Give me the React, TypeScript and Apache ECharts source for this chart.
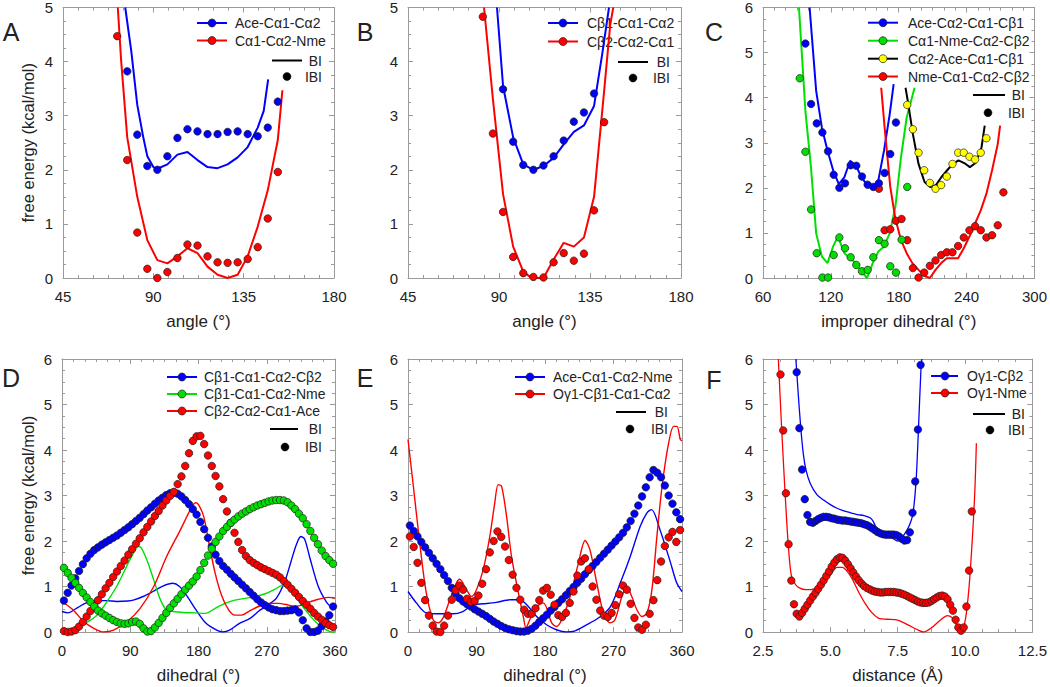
import React, { useEffect, useRef } from "react";
import * as echarts from "echarts";

const FONT = '"Liberation Sans", Arial, Helvetica, sans-serif';
const FRAME = "#9a9a9a";
const TEXT = "#222222";
const BLUE = "#0000ff";
const RED = "#ff0000";
const GREEN = "#00e000";
const YELLOW = "#ffff00";
const BLACK = "#000000";

// bin centres of the histogrammed IBI points
const bins = (start: number, step: number, n: number) =>
  Array.from({ length: n }, (_, i) => Math.round((start + step * i) * 1000) / 1000);

// ---------------- Panel A ----------------
const aBlueIbiX = bins(77, 5, 16);
const aBlueIbiY = [3.82, 2.65, 2.07, 2.0, 2.25, 2.59, 2.75, 2.71, 2.66, 2.66, 2.7, 2.71, 2.66, 2.62, 2.78, 3.26];
const aRedIbiX = bins(72, 5, 17);
const aRedIbiY = [4.47, 2.18, 0.84, 0.17, 0.0, 0.11, 0.37, 0.62, 0.6, 0.4, 0.29, 0.28, 0.29, 0.35, 0.57, 1.1, 1.96];
const aBlueBiX = [76, 79, 82, 85, 87, 90, 92, 97, 102, 107, 112, 117, 122, 127, 132, 137, 142, 145, 147.2];
const aBlueBiY = [5.0, 4.2, 3.2, 2.6, 2.25, 2.05, 2.02, 2.1, 2.28, 2.33, 2.18, 2.05, 2.03, 2.1, 2.23, 2.42, 2.78, 3.09, 3.67];
const aRedBiX = [72.3, 74, 77, 82, 87, 92, 97, 102, 107, 112, 117, 122, 127, 132, 137, 142, 147, 152, 154.3];
const aRedBiY = [5.0, 4.0, 2.6, 1.5, 0.7, 0.33, 0.27, 0.4, 0.55, 0.46, 0.21, 0.06, 0.0, 0.06, 0.4, 0.95, 1.62, 2.55, 3.47];

// ---------------- Panel B ----------------
const bBlueIbiX = bins(92, 5, 10);
const bBlueIbiY = [3.49, 2.52, 2.09, 2.0, 2.08, 2.25, 2.54, 2.89, 3.06, 3.41];
const bRedIbiX = bins(82, 5, 13);
const bRedIbiY = [4.83, 2.67, 1.22, 0.39, 0.09, 0.02, 0.01, 0.29, 0.46, 0.32, 0.45, 1.25, 2.88];
const bBlueBiX = [89, 92, 97, 102, 107, 112, 117, 122, 127, 132, 137, 141, 144.4];
const bBlueBiY = [5.0, 3.55, 2.6, 2.1, 2.0, 2.07, 2.22, 2.47, 2.7, 2.82, 3.18, 4.13, 5.0];
const bRedBiX = [82.6, 87, 92, 97, 102, 105, 107, 112, 117, 122, 127, 132, 137, 142, 145, 146.5];
const bRedBiY = [5.0, 3.3, 1.55, 0.58, 0.12, 0.03, 0.0, 0.0, 0.34, 0.65, 0.58, 0.75, 1.5, 3.46, 4.68, 5.0];

// ---------------- Panel C ----------------
const cBlueIbiX = bins(97.5, 5, 17);
const cBlueIbiY = [5.2, 3.86, 3.43, 3.23, 2.81, 2.29, 2.0, 2.1, 2.5, 2.49, 2.25, 2.07, 2.02, 2.1, 2.33, 2.75, 3.45];
const cGreenIbiX = bins(92.5, 5, 20);
const cGreenIbiY = [4.43, 2.8, 1.52, 0.55, 0.01, 0.01, 0.51, 0.9, 0.66, 0.46, 0.29, 0.15, 0.18, 0.46, 0.84, 0.76, 0.26, 0.12, 0.85, 2.02];
const cYellowIbiX = bins(187.5, 5, 15);
const cYellowIbiY = [3.84, 3.3, 2.78, 2.39, 2.11, 1.98, 2.06, 2.25, 2.53, 2.78, 2.78, 2.69, 2.63, 2.78, 3.1];
const cRedIbiX = bins(162.5, 5, 23);
const cRedIbiY = [1.98, 1.06, 1.08, 1.27, 1.31, 0.84, 0.22, 0.01, 0.12, 0.27, 0.39, 0.51, 0.57, 0.57, 0.71, 0.9, 1.06, 1.15, 1.06, 0.9, 0.95, 1.17, 1.9];
const cBlueBiX = [101.2, 107, 112, 117, 122, 127, 132, 137, 142, 147, 152, 157, 162, 167, 172, 175.5];
const cBlueBiY = [6.0, 4.15, 3.34, 2.83, 2.39, 2.08, 2.24, 2.6, 2.5, 2.24, 2.06, 2.02, 2.17, 2.83, 3.63, 4.3];
const cGreenBiX = [91.8, 97.5, 102.4, 107, 112, 117, 122, 126.2, 132, 137, 142, 147, 152, 157, 162, 167, 172, 177, 182, 187, 194];
const cGreenBiY = [6.0, 3.7, 2.46, 0.99, 0.48, 0.33, 0.7, 0.92, 0.55, 0.44, 0.33, 0.15, 0.0, 0.33, 0.59, 0.7, 0.99, 1.58, 2.68, 3.56, 4.22];
const cBlackBiX = [186, 188, 192.5, 197.5, 202.8, 207.8, 212.8, 217.8, 222.8, 227.8, 232.8, 237.9, 242.9, 247.9, 253.2, 256];
const cBlackBiY = [4.22, 3.93, 3.19, 2.53, 2.13, 2.02, 2.06, 2.24, 2.39, 2.53, 2.61, 2.55, 2.46, 2.55, 2.9, 3.38];
const cRedBiX = [164.5, 167.5, 172.5, 177, 182, 187, 192, 197.5, 202.5, 207.5, 212.5, 217.5, 222.5, 227.5, 232.5, 237.5, 242.5, 247.5, 252.5, 257.5, 262.5, 267.5, 269.6];
const cRedBiY = [4.22, 3.34, 2.02, 1.32, 0.84, 0.55, 0.33, 0.18, 0.05, 0.0, 0.18, 0.33, 0.44, 0.44, 0.44, 0.66, 0.92, 1.21, 1.5, 1.87, 2.39, 2.97, 3.38];

// ---------------- Panel D ----------------
const dIbiX = bins(2.5, 5, 72);
const dBlueIbiY = [
  0.69, 0.86, 1.02, 1.18, 1.34, 1.49, 1.62, 1.72, 1.8, 1.86,
  1.92, 1.97, 2.02, 2.07, 2.12, 2.18, 2.24, 2.3, 2.37, 2.44,
  2.51, 2.59, 2.67, 2.74, 2.82, 2.89, 2.95, 3.01, 3.05, 3.06,
  3.04, 2.98, 2.9, 2.81, 2.7, 2.58, 2.42, 2.26, 2.07, 1.88,
  1.7, 1.56, 1.45, 1.37, 1.28, 1.2, 1.12, 1.04, 0.96, 0.88,
  0.8, 0.72, 0.65, 0.59, 0.54, 0.5, 0.48, 0.46, 0.46, 0.47,
  0.48, 0.5, 0.43, 0.26, 0.08, 0.0, 0.0, 0.03, 0.13, 0.23,
  0.37, 0.56,
];
const dGreenIbiY = [
  1.41, 1.3, 1.19, 1.08, 0.97, 0.86, 0.76, 0.66, 0.56, 0.47,
  0.41, 0.36, 0.31, 0.26, 0.22, 0.19, 0.18, 0.19, 0.22, 0.23,
  0.18, 0.08, 0.01, 0.02, 0.1, 0.2, 0.31, 0.42, 0.53, 0.63,
  0.73, 0.83, 0.93, 1.02, 1.11, 1.22, 1.36, 1.52, 1.68, 1.83,
  1.98, 2.1, 2.22, 2.31, 2.4, 2.47, 2.54, 2.6, 2.65, 2.7,
  2.74, 2.78, 2.81, 2.84, 2.87, 2.89, 2.9, 2.9, 2.89, 2.85,
  2.78, 2.7, 2.6, 2.5, 2.37, 2.22, 2.07, 1.93, 1.79, 1.67,
  1.58, 1.5,
];
const dRedIbiY = [
  0.02, 0.0, 0.01, 0.04, 0.12, 0.22, 0.34, 0.46, 0.58, 0.7,
  0.83, 0.96, 1.08, 1.21, 1.33, 1.45, 1.57, 1.7, 1.82, 1.94,
  2.06, 2.19, 2.31, 2.43, 2.55, 2.66, 2.78, 2.89, 2.99, 3.08,
  3.25, 3.42, 3.65, 3.93, 4.2, 4.3, 4.31, 4.13, 3.88, 3.65,
  3.43, 3.2, 2.92, 2.65, 2.4, 2.18, 1.98, 1.8, 1.67, 1.58,
  1.52, 1.47, 1.42, 1.38, 1.34, 1.3, 1.26, 1.2, 1.12, 1.04,
  0.95, 0.86, 0.77, 0.68, 0.6, 0.51, 0.42, 0.34, 0.27, 0.2,
  0.15, 0.11,
];
const dBlueBiX = [0, 8, 19, 32, 46, 59, 72, 87, 94, 107, 120, 133, 146, 155, 164, 177, 190, 204, 212, 221, 234, 248, 261, 272, 283, 294, 302, 309, 315, 320, 327, 338, 349, 355, 360];
const dBlueBiY = [0.45, 0.42, 0.52, 0.64, 0.69, 0.69, 0.67, 0.68, 0.7, 0.78, 0.89, 1.01, 1.07, 1.0, 0.81, 0.48, 0.19, 0.04, 0.0, 0.04, 0.19, 0.3, 0.48, 0.6, 0.75, 1.12, 1.55, 1.92, 2.1, 2.04, 1.62, 1.0, 0.65, 0.55, 0.5];
const dGreenBiX = [33, 45, 55, 72, 86, 94, 100, 104, 112, 121, 130, 138, 147, 160, 176, 189, 202, 215, 228, 242, 255, 268, 281, 290, 296, 308, 321, 334, 345, 356, 360];
const dGreenBiY = [0.21, 0.35, 0.56, 1.0, 1.47, 1.73, 1.88, 1.86, 1.58, 1.14, 0.7, 0.48, 0.45, 0.43, 0.42, 0.41, 0.52, 0.63, 0.7, 0.74, 0.78, 0.84, 0.94, 1.02, 1.0, 0.78, 0.48, 0.23, 0.08, 0.0, 0.0];
const dRedBiX = [0, 15, 28.5, 42, 55, 68, 86, 103, 121, 138, 156, 169, 176, 180, 187, 193, 202, 211, 220, 228, 237, 246, 259, 272, 285, 299, 307, 316, 325, 338, 351, 360];
const dRedBiY = [0.67, 0.48, 0.23, 0.08, 0.0, 0.04, 0.23, 0.52, 1.0, 1.66, 2.24, 2.68, 2.84, 2.8, 2.53, 2.02, 1.29, 0.78, 0.48, 0.37, 0.37, 0.45, 0.56, 0.63, 0.63, 0.59, 0.56, 0.59, 0.65, 0.72, 0.76, 0.75];

// ---------------- Panel E ----------------
const eIbiX = bins(2.5, 5, 72);
const eBlueIbiY = [
  2.34, 2.22, 2.1, 1.98, 1.86, 1.74, 1.62, 1.5, 1.38, 1.25,
  1.12, 0.97, 0.85, 0.74, 0.67, 0.61, 0.56, 0.5, 0.45, 0.4,
  0.35, 0.29, 0.23, 0.18, 0.13, 0.09, 0.06, 0.04, 0.02, 0.01,
  0.01, 0.03, 0.07, 0.14, 0.22, 0.3, 0.38, 0.47, 0.55, 0.64,
  0.72, 0.81, 0.9, 0.99, 1.08, 1.17, 1.27, 1.36, 1.45, 1.54,
  1.63, 1.72, 1.81, 1.9, 1.99, 2.08, 2.18, 2.3, 2.44, 2.6,
  2.78, 2.98, 3.18, 3.4, 3.56, 3.5, 3.4, 3.22, 3.0, 2.82,
  2.63, 2.48,
];
const eRedIbiY = [
  2.1, 1.87, 1.52, 1.08, 0.7, 0.36, 0.14, 0.01, 0.0, 0.14,
  0.36, 0.71, 0.92, 1.02, 0.93, 0.73, 0.66, 0.68, 0.8, 1.06,
  1.38, 1.75, 2.0, 2.21, 2.09, 1.88, 1.58, 1.26, 0.97, 0.71,
  0.49, 0.4, 0.4, 0.52, 0.7, 0.91, 0.97, 0.82, 0.6, 0.37,
  0.33, 0.42, 0.64, 0.89, 1.24, 1.55, 1.62, 1.38, 1.0, 0.71,
  0.47, 0.36, 0.33, 0.42, 0.59, 0.83, 1.02, 0.93, 0.62, 0.31,
  0.1, 0.05, 0.16, 0.4, 0.7, 1.14, 1.55, 1.89, 2.08, 2.2,
  1.98, 2.24,
];
const eBlueBiX = [0, 11, 24, 42, 59, 72, 86, 99, 116, 134, 147, 156, 169, 182, 195, 208, 217, 235, 252, 266, 279, 292, 305, 314, 320, 331, 345, 353, 360];
const eBlueBiY = [0.89, 0.64, 0.42, 0.4, 0.4, 0.45, 0.6, 0.62, 0.65, 0.71, 0.71, 0.6, 0.34, 0.16, 0.05, 0.0, 0.01, 0.16, 0.33, 0.56, 1.08, 1.66, 2.32, 2.62, 2.69, 2.25, 1.52, 1.08, 0.89];
const eRedBiX = [0, 6.6, 15.4, 24, 33, 39.5, 46, 55, 63.7, 68, 76.8, 83.4, 90, 98.8, 107.5, 114, 118.5, 123, 129.5, 136, 145, 151.5, 155, 160, 166.8, 177.8, 188.8, 195, 202, 213, 224, 232.7, 239, 248, 256.8, 265.6, 272, 281, 287.5, 294, 300.7, 307.3, 314, 320.5, 327, 333.8, 342.4, 349, 353.4, 357.8, 360];
const eRedBiY = [4.23, 3.27, 1.96, 0.86, 0.27, 0.2, 0.31, 0.71, 1.08, 1.16, 0.93, 0.78, 0.93, 1.37, 2.1, 2.84, 3.24, 3.2, 2.54, 1.66, 0.86, 0.34, 0.09, 0.27, 0.53, 0.64, 0.2, 0.12, 0.27, 0.78, 1.52, 2.01, 1.81, 1.08, 0.42, 0.2, 0.27, 0.78, 1.0, 0.78, 0.49, 0.34, 0.42, 0.93, 2.1, 3.2, 4.15, 4.52, 4.52, 4.23, 4.2];

// ---------------- Panel F ----------------
const fBlueIbiX = bins(3.75, 0.1, 47);
const fBlueIbiY = [
  5.71, 4.48, 3.57, 2.92, 2.57, 2.42, 2.4, 2.44, 2.48, 2.51,
  2.53, 2.53, 2.52, 2.5, 2.49, 2.47, 2.46, 2.45, 2.45, 2.44,
  2.43, 2.42, 2.41, 2.4, 2.39, 2.37, 2.35, 2.32, 2.28, 2.24,
  2.2, 2.17, 2.15, 2.14, 2.14, 2.14, 2.14, 2.13, 2.1, 2.05,
  2.01, 2.02, 2.19, 2.62, 3.31, 4.45, 5.87,
];
const fRedIbiX = bins(3.15, 0.1, 72);
const fRedIbiY = [
  5.66, 4.43, 3.05, 1.93, 1.13, 0.61, 0.4, 0.34, 0.42, 0.51,
  0.6, 0.69, 0.78, 0.86, 0.95, 1.04, 1.13, 1.23, 1.33, 1.44,
  1.53, 1.6, 1.64, 1.63, 1.57, 1.49, 1.4, 1.31, 1.22, 1.14,
  1.07, 1.01, 0.97, 0.94, 0.91, 0.89, 0.88, 0.87, 0.87, 0.88,
  0.88, 0.88, 0.88, 0.87, 0.86, 0.84, 0.82, 0.79, 0.76, 0.73,
  0.7, 0.67, 0.65, 0.64, 0.64, 0.65, 0.68, 0.72, 0.76, 0.79,
  0.8, 0.78, 0.72, 0.6, 0.47, 0.27, 0.1, 0.03, 0.1, 0.56,
  1.35, 2.65,
];
const fBlueBiX = [3.72, 3.8, 3.9, 4.0, 4.1, 4.25, 4.5, 4.75, 5.0, 5.25, 5.5, 5.75, 6.0, 6.25, 6.5, 6.6, 6.75, 7.0, 7.25, 7.5, 7.6, 7.75, 7.9, 8.0, 8.07, 8.18, 8.27, 8.37, 8.4];
const fBlueBiY = [6.0, 5.3, 4.5, 3.9, 3.55, 3.27, 3.02, 2.9, 2.8, 2.72, 2.66, 2.62, 2.58, 2.56, 2.5, 2.42, 2.25, 2.15, 2.08, 2.0, 2.03, 2.15, 2.3, 2.45, 2.6, 3.3, 4.45, 5.87, 6.0];
const fRedBiX = [3.07, 3.19, 3.32, 3.44, 3.55, 3.7, 3.85, 4.1, 4.4, 4.7, 5.0, 5.25, 5.45, 5.6, 5.8, 6.05, 6.3, 6.55, 6.8, 7.1, 7.5, 7.9, 8.2, 8.45, 8.75, 9.1, 9.35, 9.55, 9.72, 9.88, 10.02, 10.15, 10.26, 10.36, 10.42];
const fRedBiY = [6.0, 4.5, 3.05, 1.9, 1.25, 1.05, 0.97, 0.93, 0.95, 1.05, 1.25, 1.42, 1.42, 1.35, 1.18, 0.88, 0.62, 0.42, 0.3, 0.28, 0.26, 0.15, 0.06, 0.0, 0.09, 0.27, 0.36, 0.3, 0.12, 0.05, 0.3, 1.0, 1.95, 3.05, 4.15];

// ---------------- Labels ----------------
const aLegend = ["Ace-C\u03b11-C\u03b12", "C\u03b11-C\u03b12-Nme"];
const bLegend = ["C\u03b21-C\u03b11-C\u03b12", "C\u03b22-C\u03b12-C\u03b11"];
const cLegend = ["Ace-C\u03b12-C\u03b11-C\u03b21", "C\u03b11-Nme-C\u03b12-C\u03b22", "C\u03b12-Ace-C\u03b11-C\u03b21", "Nme-C\u03b11-C\u03b12-C\u03b22"];
const dLegend = ["C\u03b21-C\u03b11-C\u03b12-C\u03b22", "C\u03b21-C\u03b11-C\u03b12-Nme", "C\u03b22-C\u03b12-C\u03b11-Ace"];
const eLegend = ["Ace-C\u03b11-C\u03b12-Nme", "O\u03b31-C\u03b21-C\u03b11-C\u03b12"];
const fLegend = ["O\u03b31-C\u03b22", "O\u03b31-Nme"];

type XY = [number[], number[], string];

interface Panel {
  letter: string;
  letterPos: [number, number];
  grid: { left: number; top: number; width: number; height: number };
  xMin: number; xMax: number; xInt: number; xMinor: number; xName: string;
  xFmt?: (v: number) => string;
  yMax: number; yName?: string; yNameGap?: number;
  lineW: number; smooth: number | boolean;
  lines: XY[]; dots: XY[];
  legend: {
    items: { label: string; line: string; dot: string }[];
    rows: number[]; lineX: [number, number]; dotX: number; textX: number;
    biY: number; biLine: [number, number]; ibiY: number; ibiDot: number; right: number;
  };
}

const panels: Panel[] = [
  {
    letter: "A", letterPos: [11, 32],
    grid: { left: 63, top: 6, width: 271, height: 272 },
    xMin: 45, xMax: 180, xInt: 45, xMinor: 6, xName: "angle (\u00b0)",
    yMax: 5, yName: "free energy (kcal/mol)", yNameGap: 27,
    lineW: 2, smooth: false,
    lines: [[aBlueBiX, aBlueBiY, BLUE], [aRedBiX, aRedBiY, RED]],
    dots: [[aBlueIbiX, aBlueIbiY, BLUE], [aRedIbiX, aRedIbiY, RED]],
    legend: {
      items: [{ label: aLegend[0], line: BLUE, dot: BLUE }, { label: aLegend[1], line: RED, dot: RED }],
      rows: [23, 40.5], lineX: [197, 227], dotX: 212, textX: 235,
      biY: 60.5, biLine: [272, 302], ibiY: 76.5, ibiDot: 287, right: 322,
    },
  },
  {
    letter: "B", letterPos: [365, 32],
    grid: { left: 408, top: 6, width: 273, height: 272 },
    xMin: 45, xMax: 180, xInt: 45, xMinor: 6, xName: "angle (\u00b0)",
    yMax: 5,
    lineW: 2, smooth: false,
    lines: [[bBlueBiX, bBlueBiY, BLUE], [bRedBiX, bRedBiY, RED]],
    dots: [[bBlueIbiX, bBlueIbiY, BLUE], [bRedIbiX, bRedIbiY, RED]],
    legend: {
      items: [{ label: bLegend[0], line: BLUE, dot: BLUE }, { label: bLegend[1], line: RED, dot: RED }],
      rows: [23, 41.5], lineX: [548, 578], dotX: 563, textX: 587,
      biY: 62, biLine: [618, 648], ibiY: 78, ibiDot: 633, right: 670,
    },
  },
  {
    letter: "C", letterPos: [714, 32],
    grid: { left: 763, top: 6, width: 272, height: 272 },
    xMin: 60, xMax: 300, xInt: 60, xMinor: 6, xName: "improper dihedral (\u00b0)",
    yMax: 6,
    lineW: 2, smooth: false,
    lines: [[cBlueBiX, cBlueBiY, BLUE], [cGreenBiX, cGreenBiY, GREEN], [cBlackBiX, cBlackBiY, BLACK], [cRedBiX, cRedBiY, RED]],
    dots: [[cRedIbiX, cRedIbiY, RED], [cGreenIbiX, cGreenIbiY, GREEN], [cYellowIbiX, cYellowIbiY, YELLOW], [cBlueIbiX, cBlueIbiY, BLUE]],
    legend: {
      items: [
        { label: cLegend[0], line: BLUE, dot: BLUE },
        { label: cLegend[1], line: GREEN, dot: GREEN },
        { label: cLegend[2], line: BLACK, dot: YELLOW },
        { label: cLegend[3], line: RED, dot: RED },
      ],
      rows: [22.7, 40.7, 58.7, 76.5], lineX: [868, 898], dotX: 883, textX: 908,
      biY: 95, biLine: [973, 1005], ibiY: 112.7, ibiDot: 988, right: 1025,
    },
  },
  {
    letter: "D", letterPos: [11, 378],
    grid: { left: 62, top: 359, width: 273, height: 273 },
    xMin: 0, xMax: 360, xInt: 90, xMinor: 6, xName: "dihedral (\u00b0)",
    yMax: 6, yName: "free energy (kcal/mol)", yNameGap: 26,
    lineW: 1.4, smooth: 0.3,
    lines: [[dBlueBiX, dBlueBiY, BLUE], [dGreenBiX, dGreenBiY, GREEN], [dRedBiX, dRedBiY, RED]],
    dots: [[dIbiX, dBlueIbiY, BLUE], [dIbiX, dRedIbiY, RED], [dIbiX, dGreenIbiY, GREEN]],
    legend: {
      items: [
        { label: dLegend[0], line: BLUE, dot: BLUE },
        { label: dLegend[1], line: GREEN, dot: GREEN },
        { label: dLegend[2], line: RED, dot: RED },
      ],
      rows: [377, 394, 411], lineX: [167, 197], dotX: 182, textX: 204,
      biY: 429, biLine: [270, 298], ibiY: 447, ibiDot: 285, right: 322,
    },
  },
  {
    letter: "E", letterPos: [365, 378],
    grid: { left: 408, top: 359, width: 274, height: 273 },
    xMin: 0, xMax: 360, xInt: 90, xMinor: 6, xName: "dihedral (\u00b0)",
    yMax: 6,
    lineW: 1.4, smooth: 0.3,
    lines: [[eBlueBiX, eBlueBiY, BLUE], [eRedBiX, eRedBiY, RED]],
    dots: [[eIbiX, eBlueIbiY, BLUE], [eIbiX, eRedIbiY, RED]],
    legend: {
      items: [{ label: eLegend[0], line: BLUE, dot: BLUE }, { label: eLegend[1], line: RED, dot: RED }],
      rows: [377, 394], lineX: [515, 545], dotX: 530, textX: 553,
      biY: 412, biLine: [616, 646], ibiY: 429, ibiDot: 630, right: 668,
    },
  },
  {
    letter: "F", letterPos: [714, 380],
    grid: { left: 763, top: 359, width: 272, height: 273 },
    xMin: 2.5, xMax: 12.5, xInt: 2.5, xMinor: 4, xName: "distance (\u00c5)",
    xFmt: (v: number) => v.toFixed(1),
    yMax: 6,
    lineW: 1.3, smooth: 0.3,
    lines: [[fBlueBiX, fBlueBiY, BLUE], [fRedBiX, fRedBiY, RED]],
    dots: [[fBlueIbiX, fBlueIbiY, BLUE], [fRedIbiX, fRedIbiY, RED]],
    legend: {
      items: [{ label: fLegend[0], line: BLUE, dot: BLUE }, { label: fLegend[1], line: RED, dot: RED }],
      rows: [376, 393], lineX: [931, 958], dotX: 945, textX: 967,
      biY: 414, biLine: [973, 1005], ibiY: 430, ibiDot: 990, right: 1025,
    },
  },
];

const pairs = (xs: number[], ys: number[]) => xs.map((x, i) => [x, ys[i]]);

function textEl(text: string, x: number, y: number, size: number, align: string) {
  return {
    type: "text",
    x,
    y,
    silent: true,
    style: {
      text,
      fill: TEXT,
      fontSize: size,
      fontFamily: FONT,
      textAlign: align,
      textVerticalAlign: "middle",
      align,
      verticalAlign: "middle",
    },
  };
}

function buildOption() {
  const grids: any[] = [];
  const xAxes: any[] = [];
  const yAxes: any[] = [];
  const series: any[] = [];
  const graphics: any[] = [];

  const tickCommon = (inside: boolean) => ({
    axisLine: { show: true, onZero: false, lineStyle: { color: FRAME, width: 1 } },
    axisTick: { show: true, inside, length: 5, lineStyle: { color: FRAME, width: 1 } },
    minorTick: { show: true, length: 3, lineStyle: { color: FRAME, width: 1 } },
    splitLine: { show: false },
    minorSplitLine: { show: false },
  });

  panels.forEach((p, i) => {
    grids.push({ ...p.grid, containLabel: false, show: false });
    const xBase = { gridIndex: i, type: "value", min: p.xMin, max: p.xMax, interval: p.xInt };
    xAxes.push({
      ...xBase,
      position: "bottom",
      ...tickCommon(true),
      minorTick: { show: true, splitNumber: p.xMinor, length: 3, lineStyle: { color: FRAME, width: 1 } },
      axisLabel: {
        show: true, margin: 11, fontSize: 15, color: TEXT, fontFamily: FONT,
        formatter: p.xFmt ? p.xFmt : (v: number) => String(v),
      },
      name: p.xName,
      nameLocation: "middle",
      nameGap: 35,
      nameTextStyle: { fontSize: 17, color: TEXT, fontFamily: FONT },
    });
    xAxes.push({
      ...xBase,
      position: "top",
      ...tickCommon(true),
      minorTick: { show: true, splitNumber: p.xMinor, length: 3, lineStyle: { color: FRAME, width: 1 } },
      axisLabel: { show: false },
    });
    const yBase = { gridIndex: i, type: "value", min: 0, max: p.yMax, interval: 1 };
    yAxes.push({
      ...yBase,
      position: "left",
      ...tickCommon(true),
      minorTick: { show: true, splitNumber: 4, length: 3, lineStyle: { color: FRAME, width: 1 } },
      axisLabel: { show: true, margin: 10, fontSize: 15, color: TEXT, fontFamily: FONT },
      name: p.yName || "",
      nameLocation: "middle",
      nameGap: p.yNameGap || 30,
      nameTextStyle: { fontSize: 16.5, color: TEXT, fontFamily: FONT },
    });
    yAxes.push({
      ...yBase,
      position: "right",
      ...tickCommon(true),
      minorTick: { show: true, splitNumber: 4, length: 3, lineStyle: { color: FRAME, width: 1 } },
      axisLabel: { show: false },
    });

    p.lines.forEach(([xs, ys, color]) => {
      series.push({
        type: "line",
        xAxisIndex: 2 * i,
        yAxisIndex: 2 * i,
        data: pairs(xs, ys),
        symbol: "none",
        showSymbol: false,
        smooth: p.smooth,
        clip: true,
        silent: true,
        z: 2,
        lineStyle: { color, width: p.lineW },
      });
    });
    p.dots.forEach(([xs, ys, color]) => {
      series.push({
        type: "scatter",
        xAxisIndex: 2 * i,
        yAxisIndex: 2 * i,
        data: pairs(xs, ys),
        symbol: "circle",
        symbolSize: 7.5,
        clip: false,
        silent: true,
        z: 3,
        itemStyle: { color, borderColor: "#1e1e1e", borderWidth: 0.7, opacity: 1 },
      });
    });

    // panel letter
    graphics.push(textEl(p.letter, p.letterPos[0], p.letterPos[1], 25, "center"));

    // legend
    const L = p.legend;
    L.items.forEach((it, k) => {
      const y = L.rows[k];
      graphics.push({
        type: "line", silent: true,
        shape: { x1: L.lineX[0], y1: y, x2: L.lineX[1], y2: y },
        style: { stroke: it.line, lineWidth: 2 },
      });
      graphics.push({
        type: "circle", silent: true,
        shape: { cx: L.dotX, cy: y, r: 4 },
        style: { fill: it.dot, stroke: "#1e1e1e", lineWidth: 0.7 },
      });
      graphics.push(textEl(it.label, L.textX, y, 14, "left"));
    });
    graphics.push({
      type: "line", silent: true,
      shape: { x1: L.biLine[0], y1: L.biY, x2: L.biLine[1], y2: L.biY },
      style: { stroke: BLACK, lineWidth: 2 },
    });
    graphics.push(textEl("BI", L.right, L.biY, 14, "right"));
    graphics.push({
      type: "circle", silent: true,
      shape: { cx: L.ibiDot, cy: L.ibiY, r: 4 },
      style: { fill: BLACK, stroke: BLACK, lineWidth: 0.5 },
    });
    graphics.push(textEl("IBI", L.right, L.ibiY, 14, "right"));
  });

  return {
    animation: false,
    backgroundColor: "#ffffff",
    textStyle: { fontFamily: FONT },
    grid: grids,
    xAxis: xAxes,
    yAxis: yAxes,
    series,
    graphic: { elements: graphics },
  };
}

export default function App() {
  const ref = useRef<HTMLDivElement>(null);
  useEffect(() => {
    if (!ref.current) return;
    const chart = echarts.init(ref.current, undefined, { renderer: "svg" });
    chart.setOption(buildOption() as any);
    return () => chart.dispose();
  }, []);
  return (
    <div
      ref={ref}
      style={{ position: "absolute", left: 0, top: 0, width: 1050, height: 687, background: "#fff" }}
    />
  );
}
